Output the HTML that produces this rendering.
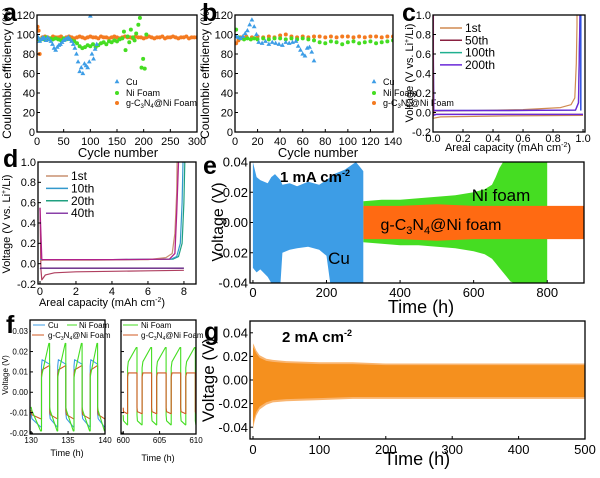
<!DOCTYPE html>
<html><head><meta charset="utf-8">
<style>
html,body{margin:0;padding:0;background:#fff;}
svg{display:block;font-family:"Liberation Sans",Arial,sans-serif;}
</style></head>
<body>
<svg id="fig" width="600" height="478" viewBox="0 0 600 478"></svg>
<script>
// ---------- DATA ----------
const aCuX=[1,3,5,8,11,14,17,20,23,26,29,32,35,38,41,44,47,50,53,56,59,62,65,68,71,74,77,80,83,86,89,92,95,98,100,103,106,109,112];
const aCuY=[98,96,93,95,97,96,94,97,95,93,90,86,84,87,89,90,92,94,95,96,97,95,93,90,86,80,72,62,66,60,70,68,66,72,119,80,75,85,90];
const aNiX=[2,5,8,11,14,17,20,25,30,35,40,45,50,55,60,65,70,75,80,85,90,95,100,105,110,115,120,125,130,135,140,145,150,155,160,163,166,170,173,176,180,183,186,190,193,196,199,202,205];
const aNiY=[96,94,95,96,95,97,95,96,95,96,95,94,96,95,96,94,93,91,88,86,87,89,88,90,87,89,91,92,90,93,92,94,93,95,96,103,84,98,92,105,97,94,101,110,117,66,75,65,100];
const aOrX=[1,3,5,10,15,20,25,30,35,40,45,50,55,60,65,70,75,80,85,90,95,100,105,110,115,120,125,130,135,140,145,150,155,160,165,170,175,180,185,190,195,200,205,210,215,220,225,230,235,240,245,250,255,260,265,270,275,280,285,290,295,300];
const aOrY=[108,104,80,97,98,97,96,98,97,97,98,96,97,98,97,96,97,98,97,96,97,98,97,97,96,98,97,97,96,97,98,97,96,97,98,97,97,96,98,97,97,96,97,98,97,96,97,97,98,96,97,97,98,97,96,97,97,98,96,97,97,97];

const bCuX=[1,3,5,7,9,11,13,15,17,19,21,24,27,30,33,36,39,42,45,48,51,54,56,58,60,62,64,66,68,70];
const bCuY=[98,97,96,98,101,104,110,115,108,100,92,91,93,90,92,91,90,89,92,91,92,93,88,84,80,78,86,87,82,73];
const bNiX=[1,3,5,8,11,14,17,20,25,30,35,40,45,50,55,60,65,70,75,80,85,90,95,100,105,110,115,120,125,130,135,140];
const bNiY=[105,97,96,95,96,95,96,95,96,95,96,96,95,96,95,96,95,94,92,91,93,92,90,92,93,91,92,93,91,92,93,94];
const bOrX=[1,3,5,10,15,20,25,30,35,40,45,50,55,60,65,70,75,80,85,90,95,100,105,110,115,120,125,130,135,140];
const bOrY=[91,94,97,98,97,98,97,98,97,99,100,98,97,98,97,98,98,97,98,97,98,98,97,98,97,98,98,97,98,98];

const cLabels=["1st","50th","100th","200th"];
const c1stCap=[0,0,0.01,0.3,0.6,0.85,0.92,0.945,0.955,0.96,0.96];
const c1stV=[1.0,-0.05,0.015,0.02,0.03,0.05,0.08,0.15,0.5,0.9,1.0];
const c1stDisCap=[0,0.05,0.5,1.0];
const c1stDisV=[-0.06,-0.045,-0.035,-0.03];
const cNCap=[0,0.005,0.5,0.95,0.97,0.975,0.98];
const cNV=[0.95,0.02,0.02,0.025,0.1,0.6,1.0];
const cNDisCap=[0,0.02,0.5,1.0];
const cNDisV=[-0.03,-0.02,-0.02,-0.02];

const dLabels=["1st","10th","20th","40th"];
const d1CapC=[0,0.2,3,6,7,7.35,7.5,7.6,7.62];
const d1VC=[0.03,0.035,0.035,0.04,0.06,0.1,0.3,0.7,1.0];
const d1CapD=[0,0.05,0.1,0.3,0.8,2,4,6,8];
const d1VD=[0.55,-0.05,-0.16,-0.11,-0.09,-0.08,-0.075,-0.07,-0.065];
const d10CapC=[0,0.2,4,7.3,7.6,7.8,7.9,7.95];
const d10VC=[0.04,0.04,0.04,0.045,0.07,0.2,0.6,1.0];
const d20CapC=[0,0.2,4,7.4,7.7,7.9,8.0,8.05];
const d20VC=[0.04,0.04,0.04,0.045,0.07,0.2,0.6,1.0];
const d40CapC=[0,0.1,4,7.2,7.5,7.6,7.7];
const d40VC=[0.55,0.04,0.04,0.045,0.1,0.5,1.0];
const dDisCap=[0,0.05,1,4,8];
const dDisV=[-0.05,-0.045,-0.045,-0.045,-0.045];

const eCuT=[0,10,20,40,50,60,75,80,100,120,150,180,200,210,220,250,280,290,300];
const eCuUp=[0.04,0.03,0.028,0.026,0.03,0.032,0.028,0.025,0.026,0.024,0.027,0.025,0.028,0.03,0.032,0.035,0.04,0.037,0.034];
const eCuLo=[-0.03,-0.033,-0.031,-0.036,-0.04,-0.04,-0.04,-0.02,-0.018,-0.017,-0.016,-0.018,-0.022,-0.04,-0.04,-0.04,-0.04,-0.04,-0.04];
const eNiT=[300,350,400,450,500,550,600,630,650,660,670,680,690,700,710,760,800];
const eNiUp=[0.014,0.015,0.015,0.016,0.017,0.018,0.02,0.022,0.025,0.03,0.036,0.04,0.04,0.04,0.04,0.04,0.04];
const eNiLo=[-0.013,-0.014,-0.015,-0.015,-0.016,-0.017,-0.019,-0.021,-0.024,-0.027,-0.03,-0.033,-0.036,-0.039,-0.04,-0.04,-0.04];
const eOrT=[300,400,500,600,700,800,900];
const eOrUp=[0.011,0.011,0.012,0.011,0.011,0.011,0.011];
const eOrLo=[-0.011,-0.011,-0.012,-0.011,-0.011,-0.011,-0.011];

const fLSwitch=[130,131.4,132.5,133.6,134.7,135.8,136.9,138.0,139.0,140];
const fLCuPos=[0.016,0.014], fLCuNeg=[-0.013,-0.017];
const fLNiPos=[0.009,0.024], fLNiNeg=[-0.009,-0.019];
const fLOrPos=[0.011,0.013], fLOrNeg=[-0.011,-0.013];
const fRSwitch=[600,600.6,601.9,602.6,603.9,604.6,605.9,606.6,607.9,608.6,609.9,610];
const fRNiPos=[0.015,0.022], fRNiNeg=[-0.014,-0.016];
const fROrPos=[0.0095,0.0095], fROrNeg=[-0.0095,-0.0105];

const gT=[0,2,5,10,20,30,50,100,150,200,250,300,350,400,450,500];
const gUp=[0.031,0.029,0.025,0.021,0.018,0.017,0.016,0.015,0.015,0.014,0.014,0.014,0.014,0.014,0.014,0.014];
const gLo=[-0.042,-0.036,-0.03,-0.025,-0.021,-0.019,-0.018,-0.017,-0.016,-0.016,-0.016,-0.016,-0.016,-0.016,-0.016,-0.016];

const ticksA=[0,50,100,150,200,250,300], ticksAY=[0,20,40,60,80,100,120];
const ticksB=[0,20,40,60,80,100,120,140];
const ticksC=[0,0.2,0.4,0.6,0.8,1.0], ticksCY=[-0.2,0,0.2,0.4,0.6,0.8,1.0];
const ticksD=[0,2,4,6,8];
const ticksE=[0,200,400,600,800], ticksEY=[-0.04,-0.02,0,0.02,0.04];
const ticksF1=[130,135,140], ticksF2=[600,605,610], ticksFY=[-0.02,-0.01,0,0.01,0.02,0.03];
const ticksG=[0,100,200,300,400,500], ticksGY=[-0.04,-0.02,0,0.02,0.04];

// ---------- DRAWING ----------
const S=document.getElementById('fig');
const NS='http://www.w3.org/2000/svg';
function mk(tag,attrs,parent){const e=document.createElementNS(NS,tag);for(const k in attrs)e.setAttribute(k,attrs[k]);(parent||S).appendChild(e);return e;}
function txt(s,x,y,size,opts,parent){const e=mk('text',Object.assign({x:x,y:y,'font-size':size,fill:'#000'},opts||{}),parent);e.innerHTML=s;return e;}
function panel(p){
  p.sx=v=>p.x0+(v-p.xmin)/(p.xmax-p.xmin)*(p.x1-p.x0);
  p.sy=v=>p.y1-(v-p.ymin)/(p.ymax-p.ymin)*(p.y1-p.y0);
  const g=mk('g',{});
  
  
  p.g=g;
  const cp=mk('clipPath',{id:'clip-'+p.name},g);
  mk('rect',{x:p.x0,y:p.y0,width:p.x1-p.x0,height:p.y1-p.y0},cp);
  p.plot=mk('g',{'clip-path':'url(#clip-'+p.name+')'},g);
  return p;
}
function frame(p,xt,yt,fs,xfmt,yfmt,dy){
  dy=(dy===undefined)?1:dy;
  const fr=mk('rect',{x:p.x0,y:p.y0,width:p.x1-p.x0,height:p.y1-p.y0,fill:'none',stroke:'#000','stroke-width':1.3},p.g);
  
  
  const xa=mk('g',{},p.g);
  
  
  xt.forEach(v=>{const x=p.sx(v);mk('line',{x1:x,x2:x,y1:p.y1,y2:p.y1-3,stroke:'#000'},xa);
    txt(xfmt(v),x,p.y1+fs+dy,fs,{'text-anchor':'middle'},xa);});
  const ya=mk('g',{},p.g);
  
  
  yt.forEach(v=>{const y=p.sy(v);mk('line',{x1:p.x0,x2:p.x0+3,y1:y,y2:y,stroke:'#000'},ya);
    txt(yfmt(v),p.x0-2,y+fs*0.35,fs,{'text-anchor':'end'},ya);});
}
function poly(p,xs,ys,color,w,name){
  const pts=xs.map((x,i)=>p.sx(x).toFixed(1)+','+p.sy(ys[i]).toFixed(1)).join(' ');
  const l=mk('polyline',{points:pts,fill:'none',stroke:color,'stroke-width':w||1.2,'stroke-linejoin':'round'},p.plot);
  
  
}
function band(p,xs,up,lo,color,name){
  let d='M'+xs.map((x,i)=>p.sx(x).toFixed(1)+','+p.sy(up[i]).toFixed(1)).join('L');
  for(let i=xs.length-1;i>=0;i--)d+='L'+p.sx(xs[i]).toFixed(1)+','+p.sy(lo[i]).toFixed(1);
  const e=mk('path',{d:d+'Z',fill:color},p.plot);
  
  
}
function scatter(p,xs,ys,color,shape,name){
  const g=mk('g',{},p.plot);
  
  
  xs.forEach((x,i)=>{const cx=p.sx(x),cy=p.sy(ys[i]);
    if(shape==='tri')mk('path',{d:`M${cx},${cy-2.6}L${cx+2.4},${cy+1.6}L${cx-2.4},${cy+1.6}Z`,fill:color},g);
    else mk('circle',{cx:cx,cy:cy,r:2,fill:color},g);});
}
function label(s,x,y,size,name){const t=txt(s,x,y,size,{'font-weight':'bold'});return t;}
function ytitle(s,x,y,size,name){const t=txt(s,x,y,size,{'text-anchor':'middle',transform:`rotate(-90 ${x} ${y})`});}
function xtitle(s,x,y,size,name){const t=txt(s,x,y,size,{'text-anchor':'middle'});}
const BLUE='#3d9de6',GREEN='#45dd22',ORANGE='#f47a20';
const f0=v=>String(v), f1=v=>v.toFixed(1), f2=v=>v.toFixed(2);

// a
const A=panel({name:'panel-a',x0:37,x1:197,y0:15,y1:132,xmin:0,xmax:300,ymin:0,ymax:120});
scatter(A,aOrX,aOrY,ORANGE,'c','series-gc3n4');
scatter(A,aNiX,aNiY,GREEN,'c','series-ni-foam');
scatter(A,aCuX,aCuY,BLUE,'tri','series-cu');
frame(A,ticksA,ticksAY,11,f0,f0,2);
ytitle('Coulombic efficiency (%)',11,73,12,'y-axis-title');
xtitle('Cycle number',118,157,13,'x-axis-title');
label('a',3,21,25,'panel-label-a');
// b
const B=panel({name:'panel-b',x0:235,x1:393,y0:15,y1:132,xmin:0,xmax:140,ymin:0,ymax:120});
scatter(B,bOrX,bOrY,ORANGE,'c','series-gc3n4');
scatter(B,bNiX,bNiY,GREEN,'c','series-ni-foam');
scatter(B,bCuX,bCuY,BLUE,'tri','series-cu');
frame(B,ticksB,ticksAY,11,f0,f0,2);
ytitle('Coulombic efficiency (%)',209,73,12,'y-axis-title');
xtitle('Cycle number',318,157,13,'x-axis-title');
label('b',202,21,25,'panel-label-b');
// legends a,b
[[A,117],[B,374]].forEach(([p,lx])=>{
  const lg=mk('g',{},p.g);
  
  
  mk('path',{d:`M${lx},${79}l2.4,4.2h-4.8z`,fill:BLUE},lg);txt('Cu',lx+9,85,9,{},lg);
  mk('circle',{cx:lx,cy:93,r:2,fill:GREEN},lg);txt('Ni Foam',lx+9,96,9,{},lg);
  mk('circle',{cx:lx,cy:103,r:2,fill:ORANGE},lg);txt('g-C<tspan font-size="6" dy="2">3</tspan><tspan dy="-2">N</tspan><tspan font-size="6" dy="2">4</tspan><tspan dy="-2">@Ni Foam</tspan>',lx+9,106,9,{},lg);
});
// c
const C=panel({name:'panel-c',x0:433,x1:585,y0:15,y1:132,xmin:0,xmax:1.013,ymin:-0.2,ymax:1.0});
const cCols=['#d08a50','#8a2040','#20b090','#6a28d8'];
poly(C,c1stDisCap,c1stDisV,cCols[0],1.2,'curve-1st-discharge');
poly(C,c1stCap,c1stV,cCols[0],1.2,'curve-1st-charge');
poly(C,cNDisCap,cNDisV,cCols[1],1.2,'curve-50th-discharge');
poly(C,cNCap,cNV,cCols[2],1.2,'curve-100th-charge');
poly(C,cNDisCap,cNDisV,cCols[3],1.4,'curve-200th-discharge');
poly(C,cNCap,cNV,cCols[3],1.4,'curve-200th-charge');
mk('line',{x1:C.sx(0.985),x2:C.sx(0.985),y1:C.sy(1),y2:C.sy(0.02),stroke:'#3050e0','stroke-width':1.5},C.plot);
mk('line',{x1:C.sx(0.003),x2:C.sx(0.003),y1:C.sy(1),y2:C.sy(-0.03),stroke:'#e040a0','stroke-width':1.2},C.plot);
frame(C,ticksC,ticksCY,11,f1,f1,-1);
ytitle('Voltage (V vs. Li<tspan font-size="7" dy="-4">+</tspan><tspan dy="4">/Li)</tspan>',413,73,11,'y-axis-title');
xtitle('Areal capacity (mAh cm<tspan font-size="7" dy="-4">-2</tspan><tspan dy="4">)</tspan>',508,151,11,'x-axis-title');
label('c',402,21,25,'panel-label-c');
{const lg=mk('g',{},C.g);


cLabels.forEach((s,i)=>{const y=28+i*12.3;mk('line',{x1:440,x2:462,y1:y,y2:y,stroke:cCols[i],'stroke-width':1.5},lg);txt(s,465,y+4,12,{},lg);});}
// d
const D=panel({name:'panel-d',x0:38,x1:196,y0:162,y1:284,xmin:-0.11,xmax:8.67,ymin:-0.2,ymax:1.0});
const dCols=['#c89070','#3399cc','#20a080','#8a40a8'];
poly(D,d1CapD,d1VD,'#b04060',1.2,'curve-1st-discharge');
poly(D,dDisCap,dDisV,'#602080',1.3,'curve-40th-discharge');
poly(D,d20CapC,d20VC,dCols[2],1.2,'curve-20th-charge');
poly(D,d10CapC,d10VC,dCols[1],1.2,'curve-10th-charge');
poly(D,d1CapC,d1VC,dCols[0],1.2,'curve-1st-charge');
poly(D,d40CapC,d40VC,'#b0208a',1.3,'curve-40th-charge');
frame(D,ticksD,ticksCY,11,f0,f1,0);
ytitle('Voltage (V vs. Li<tspan font-size="7" dy="-4">+</tspan><tspan dy="4">/Li)</tspan>',10,224,11,'y-axis-title');
xtitle('Areal capacity (mAh cm<tspan font-size="7" dy="-4">-2</tspan><tspan dy="4">)</tspan>',102,306,11,'x-axis-title');
label('d',3,167,25,'panel-label-d');
{const lg=mk('g',{},D.g);


dLabels.forEach((s,i)=>{const y=176+i*12.4;mk('line',{x1:46,x2:68,y1:y,y2:y,stroke:dCols[i],'stroke-width':1.5},lg);txt(s,71,y+4,12,{},lg);});}
// e
const E=panel({name:'panel-e',x0:250,x1:584,y0:162,y1:283,xmin:-8,xmax:900,ymin:-0.04,ymax:0.04});
band(E,eNiT,eNiUp,eNiLo,GREEN,'band-ni-foam');
band(E,eOrT,eOrUp,eOrLo,'#ff6a12','band-gc3n4');
band(E,eCuT,eCuUp,eCuLo,BLUE,'band-cu');
frame(E,ticksE,ticksEY,13,f0,f2);
ytitle('Voltage (V)',223,222,16,'y-axis-title');
xtitle('Time (h)',421,313,18,'x-axis-title');
label('e',203,174,25,'panel-label-e');
{const t=txt('1 mA cm<tspan font-size="9" dy="-6">-2</tspan>',280,182,15,{'font-weight':'bold'});}
{const t=txt('Cu',339,264,17,{'text-anchor':'middle'});}
{const t=txt('Ni foam',501,201,17,{'text-anchor':'middle'});}
{const t=txt('g-C<tspan font-size="11" dy="4">3</tspan><tspan dy="-4">N</tspan><tspan font-size="11" dy="4">4</tspan><tspan dy="-4">@Ni foam</tspan>',441,230,16,{'text-anchor':'middle'});}
// f
function steps(p,sw,pos,neg,color,name){
  const xs=[],ys=[];
  for(let i=0;i<sw.length-1;i++){const lv=(i%2===0)?neg:pos;const a=sw[i],b=sw[i+1];
    xs.push(a,a+(b-a)*0.08,b-(b-a)*0.08,b);ys.push(lv[0]*0.8,lv[0],lv[1],lv[1]);}
  poly(p,xs,ys,color,1.1,name);
}
const F1=panel({name:'panel-f-left',x0:30,x1:105,y0:320,y1:434,xmin:129.85,xmax:140,ymin:-0.0205,ymax:0.0355});
steps(F1,fLSwitch,fLCuPos,fLCuNeg,BLUE,'series-cu');
steps(F1,fLSwitch,fLOrPos,fLOrNeg,'#d05a20','series-gc3n4');
steps(F1,fLSwitch,fLNiPos,fLNiNeg,GREEN,'series-ni-foam');
frame(F1,ticksF1,ticksFY,8,f0,f2);
ytitle('Voltage (V)',8,375,8,'y-axis-title');
xtitle('Time (h)',67,456,9,'x-axis-title');
label('f',6,333,25,'panel-label-f');
const F2=panel({name:'panel-f-right',x0:121,x1:196,y0:320,y1:434,xmin:599.7,xmax:610,ymin:-0.0205,ymax:0.0355});
steps(F2,fRSwitch,fRNiPos,fRNiNeg,GREEN,'series-ni-foam');
steps(F2,fRSwitch,fROrPos,fROrNeg,'#d05a20','series-gc3n4');
frame(F2,ticksF2,[],8,f0,f2);
ticksFY.forEach(v=>mk('line',{x1:121,x2:124,y1:F2.sy(v),y2:F2.sy(v),stroke:'#000'},F2.g));
xtitle('Time (h)',158,461,9,'x-axis-title');
{const lg=mk('g',{},S);


mk('rect',{x:31,y:321,width:73,height:18,fill:'#fff'},lg);mk('rect',{x:122,y:321,width:73,height:18,fill:'#fff'},lg);
mk('line',{x1:33,x2:45,y1:325,y2:325,stroke:BLUE},lg);txt('Cu',48,328,8,{},lg);
mk('line',{x1:67,x2:77,y1:325,y2:325,stroke:GREEN},lg);txt('Ni Foam',79,328,8,{},lg);
mk('line',{x1:32,x2:44,y1:335,y2:335,stroke:'#d05a20'},lg);txt('g-C<tspan font-size="5" dy="2">3</tspan><tspan dy="-2">N</tspan><tspan font-size="5" dy="2">4</tspan><tspan dy="-2">@Ni Foam</tspan>',48,338,8,{},lg);
mk('line',{x1:123,x2:138,y1:325,y2:325,stroke:GREEN},lg);txt('Ni Foam',141,328,8,{},lg);
mk('line',{x1:123,x2:138,y1:335,y2:335,stroke:'#d05a20'},lg);txt('g-C<tspan font-size="5" dy="2">3</tspan><tspan dy="-2">N</tspan><tspan font-size="5" dy="2">4</tspan><tspan dy="-2">@Ni Foam</tspan>',141,338,8,{},lg);}
// g
const G=panel({name:'panel-g',x0:250,x1:585,y0:321,y1:439,xmin:-4.5,xmax:500,ymin:-0.05,ymax:0.05});
band(G,gT,gUp,gLo,'#f9b570','band-outer');
band(G,gT,gUp.map(v=>v*0.9),gLo.map(v=>v*0.9),'#f5901e','band-gc3n4');
frame(G,ticksG,ticksGY,13,f0,f2,2);
ytitle('Voltage (V)',214,380,17,'y-axis-title');
xtitle('Time (h)',417,465,18,'x-axis-title');
label('g',204,340,25,'panel-label-g');
{const t=txt('2 mA cm<tspan font-size="9" dy="-6">-2</tspan>',282,342,15,{'font-weight':'bold'});}
</script>
</body></html>
